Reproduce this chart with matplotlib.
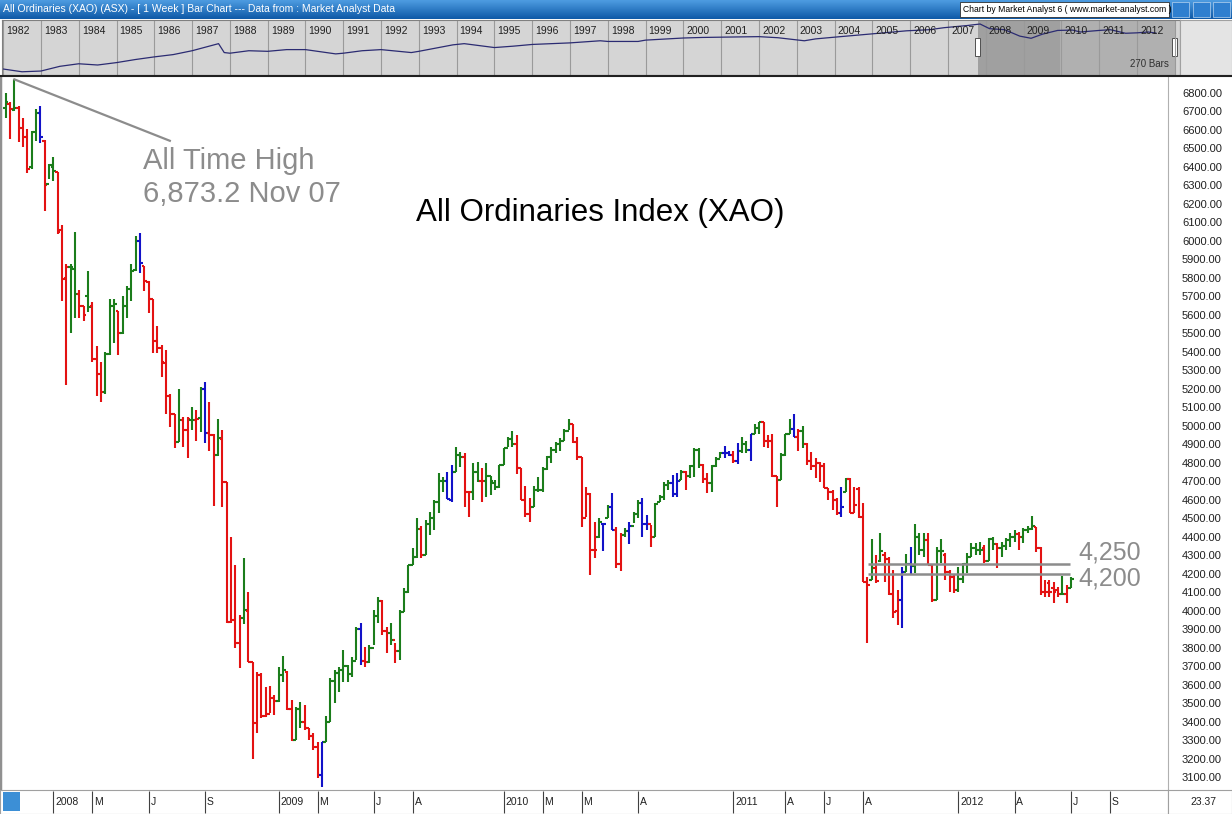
import matplotlib
matplotlib.use("Agg")
import matplotlib.pyplot as plt
import numpy as np
from matplotlib.collections import LineCollection
from matplotlib.patches import Rectangle

plt.rcParams['font.family'] = ['Liberation Sans', 'DejaVu Sans']
NARROW = ['Liberation Sans Narrow', 'Liberation Sans', 'DejaVu Sans']

# weekly XAO bars, Oct 2007 .. Jun 2012
opens = [
    6720, 6740, 6710, 6720, 6610, 6560, 6400, 6590, 6690, 6540,
    6310, 6400, 6370, 6060, 5800, 5860, 5850, 5715, 5650, 5700,
    5650, 5360, 5280, 5180, 5390, 5650, 5620, 5500, 5650, 5740,
    5840, 6000, 5866, 5780, 5687, 5460, 5420, 5340, 5160, 5066,
    4910, 5030, 4975, 5030, 5030, 5040, 5200, 4960, 4950, 4840,
    4930, 4694, 3937, 3950, 3824, 3960, 4000, 3721, 3392, 3650,
    3430, 3440, 3530, 3510, 3650, 3670, 3470, 3300, 3470, 3400,
    3365, 3320, 3260, 3110, 3290, 3400, 3620, 3665, 3680, 3700,
    3660, 3730, 3900, 3725, 3720, 3800, 3970, 4050, 3890, 3880,
    3840, 3780, 3990, 4100, 4245, 4290, 4440, 4300, 4470, 4500,
    4590, 4700, 4700, 4600, 4750, 4840, 4830, 4640, 4640, 4750,
    4700, 4700, 4730, 4690, 4670, 4786, 4877, 4930, 4900, 4770,
    4600, 4520, 4560, 4650, 4650, 4765, 4830, 4870, 4900, 4920,
    4970, 5010, 4910, 4830, 4500, 4630, 4330, 4400, 4470, 4500,
    4560, 4435, 4250, 4410, 4430, 4460, 4520, 4580, 4470, 4470,
    4400, 4590, 4615, 4680, 4690, 4630, 4705, 4750, 4730, 4780,
    4870, 4790, 4710, 4690, 4780, 4820, 4850, 4850, 4840, 4810,
    4866, 4900, 4870, 4958, 4990, 5018, 4920, 4920, 4726, 4705,
    4840, 4958, 4985, 4937, 4970, 4900, 4810, 4780, 4800, 4780,
    4662, 4640, 4600, 4530, 4640, 4710, 4530, 4660, 4505, 4154,
    4164, 4230, 4270, 4300, 4280, 4090, 4000, 4060, 4210, 4250,
    4240, 4400, 4330, 4380, 4245, 4060, 4320, 4300, 4210, 4180,
    4110, 4170, 4250, 4290, 4340, 4330, 4340, 4270, 4385, 4360,
    4340, 4350, 4380, 4400, 4415, 4400, 4435, 4440, 4451, 4340,
    4100, 4150, 4120, 4110, 4090, 4090, 4120,
]
highs = [
    6800, 6750, 6873, 6730, 6665, 6605, 6595, 6715, 6730, 6545,
    6416, 6454, 6373, 6087, 5876, 5876, 6050, 5736, 5650, 5839,
    5671, 5433, 5342, 5401, 5687, 5687, 5623, 5704, 5758, 5876,
    6028, 6044, 5866, 5785, 5687, 5542, 5439, 5407, 5169, 5066,
    5201, 5045, 5045, 5099, 5083, 5212, 5234, 5126, 4958, 5039,
    4975, 4694, 4397, 4245, 3975, 4283, 4100, 3721, 3668, 3662,
    3586, 3592, 3543, 3695, 3754, 3673, 3516, 3478, 3505, 3489,
    3365, 3338, 3290, 3290, 3430, 3635, 3678, 3695, 3787, 3705,
    3749, 3911, 3932, 3803, 3813, 4002, 4073, 4056, 3911, 3932,
    3824, 4002, 4121, 4245, 4337, 4499, 4456, 4488, 4532, 4597,
    4743, 4721, 4748, 4786, 4883, 4856, 4850, 4640, 4797, 4802,
    4770, 4797, 4726, 4705, 4786, 4877, 4937, 4969, 4948, 4770,
    4672, 4607, 4672, 4721, 4775, 4839, 4883, 4910, 4931, 4985,
    5039, 5007, 4937, 4829, 4667, 4634, 4478, 4499, 4472, 4569,
    4634, 4451, 4418, 4445, 4478, 4532, 4597, 4607, 4515, 4461,
    4580, 4624, 4694, 4705, 4732, 4743, 4759, 4753, 4786, 4877,
    4877, 4791, 4743, 4786, 4829, 4856, 4893, 4866, 4866, 4904,
    4937, 4920, 4958, 5007, 5018, 5018, 4948, 4958, 4726, 4850,
    4958, 5034, 5065, 4985, 4996, 4904, 4856, 4823, 4802, 4797,
    4662, 4651, 4607, 4667, 4716, 4716, 4667, 4667, 4580, 4181,
    4386, 4299, 4418, 4316, 4289, 4220, 4110, 4235, 4305, 4343,
    4467, 4418, 4418, 4418, 4245, 4343, 4386, 4310, 4218, 4191,
    4235, 4256, 4310, 4364, 4364, 4370, 4353, 4391, 4397, 4364,
    4370, 4391, 4418, 4435, 4424, 4445, 4456, 4510, 4451, 4343,
    4164, 4164, 4154, 4127, 4186, 4137, 4181,
]
lows = [
    6665, 6550, 6700, 6535, 6510, 6368, 6390, 6540, 6530, 6163,
    6335, 6325, 6038, 5677, 5218, 5504, 5580, 5580, 5569, 5617,
    5342, 5163, 5131, 5174, 5380, 5450, 5380, 5498, 5585, 5677,
    5839, 5828, 5731, 5612, 5396, 5396, 5261, 5066, 4991, 4877,
    4910, 4883, 4823, 4975, 4920, 4964, 4904, 4866, 4564, 4834,
    4559, 3932, 3932, 3797, 3689, 3927, 3721, 3197, 3338, 3419,
    3424, 3446, 3435, 3505, 3613, 3462, 3295, 3300, 3365, 3354,
    3300, 3246, 3095, 3046, 3290, 3397, 3500, 3559, 3613, 3613,
    3640, 3732, 3705, 3695, 3716, 3813, 3932, 3867, 3770, 3813,
    3716, 3732, 3991, 4094, 4245, 4283, 4283, 4299, 4407, 4435,
    4526, 4640, 4602, 4586, 4748, 4775, 4559, 4505, 4597, 4694,
    4586, 4613, 4624, 4651, 4662, 4786, 4883, 4883, 4737, 4597,
    4505, 4478, 4559, 4640, 4640, 4760, 4797, 4850, 4866, 4920,
    4975, 4904, 4813, 4451, 4505, 4191, 4283, 4391, 4321, 4499,
    4435, 4229, 4213, 4397, 4359, 4472, 4499, 4397, 4435, 4343,
    4397, 4586, 4597, 4651, 4613, 4613, 4705, 4651, 4716, 4721,
    4770, 4689, 4634, 4640, 4775, 4823, 4823, 4834, 4797, 4791,
    4850, 4850, 4807, 4958, 4958, 4883, 4877, 4721, 4559, 4705,
    4839, 4958, 4937, 4866, 4877, 4786, 4759, 4716, 4694, 4662,
    4597, 4542, 4515, 4505, 4640, 4526, 4526, 4499, 4154, 3824,
    4164, 4148, 4262, 4154, 4083, 3960, 3921, 3905, 4208, 4191,
    4202, 4300, 4289, 4245, 4045, 4056, 4256, 4164, 4100, 4094,
    4100, 4148, 4202, 4289, 4300, 4299, 4256, 4267, 4326, 4229,
    4289, 4326, 4343, 4370, 4326, 4364, 4418, 4435, 4316, 4083,
    4073, 4073, 4040, 4073, 4083, 4040, 4121,
]
closes = [
    6750, 6715, 6720, 6610, 6560, 6390, 6590, 6690, 6560, 6303,
    6410, 6380, 6050, 5795, 5860, 5860, 5715, 5650, 5600, 5640,
    5360, 5282, 5180, 5390, 5650, 5660, 5500, 5650, 5740, 5839,
    6000, 5880, 5785, 5687, 5460, 5423, 5342, 5163, 5066, 4910,
    5029, 4975, 5034, 5029, 5039, 5200, 4960, 4948, 4840, 4931,
    4694, 3937, 3950, 3824, 3960, 4002, 3721, 3392, 3650, 3430,
    3440, 3530, 3510, 3650, 3680, 3470, 3300, 3470, 3400, 3365,
    3320, 3260, 3110, 3290, 3400, 3620, 3665, 3680, 3700, 3660,
    3730, 3900, 3725, 3720, 3800, 3970, 4050, 3890, 3880, 3840,
    3780, 3990, 4100, 4245, 4290, 4440, 4300, 4470, 4500, 4590,
    4700, 4700, 4602, 4750, 4840, 4830, 4640, 4640, 4750, 4700,
    4700, 4730, 4700, 4670, 4786, 4877, 4930, 4900, 4770, 4597,
    4520, 4560, 4650, 4650, 4765, 4830, 4870, 4900, 4920, 4970,
    5010, 4910, 4830, 4500, 4630, 4330, 4330, 4480, 4470, 4560,
    4435, 4250, 4410, 4430, 4460, 4520, 4580, 4470, 4470, 4400,
    4575, 4615, 4680, 4690, 4630, 4700, 4750, 4730, 4780, 4870,
    4790, 4710, 4690, 4780, 4820, 4850, 4850, 4840, 4810, 4866,
    4900, 4870, 4958, 4990, 5018, 4920, 4920, 4726, 4705, 4840,
    4958, 4985, 4937, 4970, 4900, 4810, 4780, 4800, 4780, 4662,
    4640, 4600, 4530, 4560, 4710, 4530, 4570, 4505, 4154, 4140,
    4229, 4160, 4320, 4280, 4090, 3990, 4060, 4210, 4250, 4240,
    4400, 4330, 4380, 4245, 4060, 4320, 4320, 4210, 4180, 4110,
    4170, 4250, 4290, 4340, 4330, 4330, 4270, 4385, 4360, 4340,
    4350, 4380, 4400, 4415, 4400, 4435, 4440, 4460, 4340, 4100,
    4100, 4100, 4100, 4090, 4090, 4120, 4170,
]
# r = red, g = green, b = blue bar
bar_colors = (
    "grgrrrggbr" "ggrrrggrrg" "rrrgggrggg" "gbrrrrrrrr" "grrgrgbrrg"
    "rrrrrgrrrr" "rrrggrrggr" "rrrbgggggg" "ggbrgggrrg" "rgggggrggg"
    "ggbbggrrgg" "rgggggggrr" "rrgggggggg" "grrrrrrgbg" "brrgbggbbr"
    "ggggbbgrgg" "grrgggbbrb" "ggbggrrrrg" "ggbrgrrrrr" "rrrbgrrrrr"
    "grgrrrrbgb" "gggrrggrrr" "ggggggrggr" "ggggrgggrr" "rrrrgrg"
)

# bottom date axis (bar index of each label)
date_ticks = [11, 20, 33, 46, 63, 72, 85, 94, 115, 124, 133, 146,
              168, 180, 189, 198, 220, 233, 246, 255]
date_labels = ["2008", "M", "J", "S", "2009", "M", "J", "A", "2010", "M",
               "M", "A", "2011", "A", "J", "A", "2012", "A", "J", "S"]

ath_value = 6873.2
support_levels = [4250, 4200]

# navigator strip: long-term index history (year, level)
nav_years = [1982.0, 1982.5, 1983.0, 1983.5, 1984.0, 1984.5, 1985.0, 1985.5,
             1986.0, 1986.5, 1987.0, 1987.7, 1987.85, 1988.0, 1988.5, 1989.0,
             1989.5, 1990.0, 1990.8, 1991.0, 1991.5, 1992.0, 1992.8, 1993.0,
             1993.9, 1994.2, 1995.0, 1995.5, 1996.0, 1997.0, 1997.8, 1998.0,
             1998.8, 1999.0, 2000.0, 2000.5, 2001.0, 2002.0, 2002.5, 2003.2,
             2003.5, 2004.0, 2004.9, 2005.9, 2006.5, 2006.9, 2007.5, 2007.85,
             2008.1, 2008.5, 2008.9, 2009.2, 2009.5, 2009.9, 2010.3, 2010.5,
             2011.0, 2011.3, 2011.7, 2012.0, 2012.3, 2012.5]
nav_values = [560, 480, 500, 650, 750, 700, 800, 950,
              1100, 1250, 1550, 2300, 1400, 1350, 1550, 1500,
              1650, 1650, 1300, 1350, 1550, 1650, 1400, 1500,
              2150, 2300, 1850, 2000, 2200, 2400, 2700, 2600,
              2600, 2800, 3150, 3250, 3300, 3400, 3200, 2700,
              3000, 3300, 3900, 4700, 5000, 5600, 6300, 6870,
              5300, 5000, 3500, 3100, 3900, 4800, 4900, 4400,
              4800, 5000, 4100, 4200, 4400, 4150]

W, H = 1232, 814
RED, GREEN, BLUE = "#e31212", "#1b7d1b", "#1212c8"
GREY = "#8c8c8c"


def px_axes(fig, x0, y0, x1, y1):
    return fig.add_axes([x0 / W, 1 - y1 / H, (x1 - x0) / W, (y1 - y0) / H])


fig = plt.figure(figsize=(W / 100, H / 100), dpi=100)
fig.patch.set_facecolor("white")

# ---- title bar ----
tb = px_axes(fig, 0, 0, W, 19)
grad = np.linspace(0, 1, 20).reshape(-1, 1)
tb.imshow(grad, aspect="auto", extent=(0, 1, 0, 1),
          cmap=matplotlib.colors.LinearSegmentedColormap.from_list(
              "bar", ["#4d9be0", "#0f5aa8"]))
tb.set_xlim(0, 1)
tb.set_ylim(0, 1)
tb.axis("off")
tb.text(3 / W, 0.5, "All Ordinaries (XAO) (ASX) - [ 1 Week ] Bar Chart --- "
        "Data from : Market Analyst Data", color="white", fontsize=7.5,
        va="center", family=NARROW)
tb.add_patch(Rectangle((960 / W, 0.08), 209 / W, 0.84, fc="white",
                       ec="#303030", lw=0.6))
tb.text(963 / W, 0.5, "Chart by Market Analyst 6 ( www.market-analyst.com )",
        color="black", fontsize=6.2, va="center", family=NARROW)
for bx0 in (1172, 1193, 1213):
    tb.add_patch(Rectangle((bx0 / W, 0.1), 17 / W, 0.8, fc="#2f7fcf",
                           ec="#b8d4f0", lw=0.5))

# ---- navigator ----
nav = px_axes(fig, 2, 20, 1180, 75)
nav.set_facecolor("#d5d5d5")
nav.set_yscale("log")
nav.set_xlim(1981.97, 2013.14)
nav.set_ylim(401, 8590)
nav.axvspan(2007.79, 2009.96, color="#a0a0a0", lw=0)
nav.axvspan(2009.96, 2013.0, color="#b0b0b0", lw=0)
for yr in range(1982, 2014):
    nav.axvline(yr, color="#9a9a9a", lw=0.8)
    if yr <= 2012:
        nav.text(yr + 0.08, 0.8, str(yr), transform=nav.get_xaxis_transform(),
                 fontsize=7.5, va="center", color="#202020", family=NARROW)
nav.plot(nav_years, nav_values, color="#2b2b72", lw=0.9)
trans = nav.get_xaxis_transform()
for hx in (2007.72, 2012.93):
    nav.add_patch(Rectangle((hx, 0.35), 0.14, 0.32, transform=trans,
                            fc="white", ec="#505050", lw=0.7))
nav.text(2012.85, 0.2, "270 Bars", transform=trans, ha="right", va="center",
         fontsize=7, color="#303030", family=NARROW)
nav.set_xticks([])
nav.set_yticks([], minor=False)
nav.set_yticks([], minor=True)
for s in nav.spines.values():
    s.set_color("#808080")
    s.set_linewidth(0.8)

side = px_axes(fig, 1180, 20, W, 75)
side.set_facecolor("#e4e4e4")
side.set_xticks([])
side.set_yticks([])
for s in side.spines.values():
    s.set_color("#a0a0a0")
fig.add_artist(plt.Line2D([0, 1], [1 - 76 / H, 1 - 76 / H], color="#202020",
                          lw=1.5, transform=fig.transFigure))

# ---- main price panel ----
ax = px_axes(fig, 0, 77, 1168, 790)
ax.set_xlim(-1.32, 268.4)
ax.set_ylim(3030, 6886)

color_map = {"r": RED, "g": GREEN, "b": BLUE}
segs, cols = [], []
tick = 0.62
for i, (o, h, l, c) in enumerate(zip(opens, highs, lows, closes)):
    col = color_map[bar_colors[i]]
    segs += [[(i, l), (i, h)], [(i - tick, o), (i, o)], [(i, c), (i + tick, c)]]
    cols += [col] * 3
ax.add_collection(LineCollection(segs, colors=cols, linewidths=1.5))

ax.plot([2, 37.9], [ath_value, 6541], color=GREY, lw=1.6)
ax.text(31.7, 6433, "All Time High", fontsize=21, color=GREY, va="center")
ax.text(31.7, 6255, f"{ath_value:,.1f} Nov 07", fontsize=21, color=GREY,
        va="center")
ax.text(137.3, 6152, "All Ordinaries Index (XAO)", fontsize=22.5,
        color="black", ha="center", va="center")

ax.hlines(support_levels, 199.1, 245.8, colors=GREY, lw=1.8)
ax.text(247.6, 4315, f"{support_levels[0]:,}", fontsize=18, color=GREY,
        va="center")
ax.text(247.6, 4175, f"{support_levels[1]:,}", fontsize=18, color=GREY,
        va="center")

price_ticks = list(range(3100, 6900, 100))
ax.set_yticks(price_ticks)
ax.set_yticklabels([f"{v:.2f}" for v in price_ticks])
ax.yaxis.tick_right()
ax.tick_params(axis="y", length=0, pad=10, labelsize=8, labelcolor="#202020")
ax.set_xticks([])
ax.spines["top"].set_visible(False)
ax.spines["bottom"].set_visible(False)
ax.spines["left"].set_color("#909090")
ax.spines["left"].set_linewidth(2.5)
ax.spines["right"].set_color("#b0b0b0")

# ---- bottom date strip ----
bx = px_axes(fig, 0, 790, 1168, 814)
bx.set_xlim(-1.32, 268.4)
bx.set_ylim(0, 1)
bx.vlines(date_ticks, 0.05, 0.95, colors="#404040", lw=0.8)
for pos, lab in zip(date_ticks, date_labels):
    bx.text(pos + 0.4, 0.5, lab, fontsize=7.5, va="center", color="#202020",
            family=NARROW)
bx.add_patch(Rectangle((3 / 1168, 0.12), 17 / 1168, 0.8,
                       transform=bx.transAxes, fc="#3c8fd6", ec="none"))
bx.set_xticks([])
bx.set_yticks([])
for s in bx.spines.values():
    s.set_color("#a0a0a0")

rx = px_axes(fig, 1168, 790, W, 814)
rx.set_xticks([])
rx.set_yticks([])
rx.text(0.55, 0.5, "23.37", transform=rx.transAxes, fontsize=7.5,
        ha="center", va="center", color="#202020", family=NARROW)
for s in rx.spines.values():
    s.set_color("#a0a0a0")

fig.savefig("out.png", dpi=100)
